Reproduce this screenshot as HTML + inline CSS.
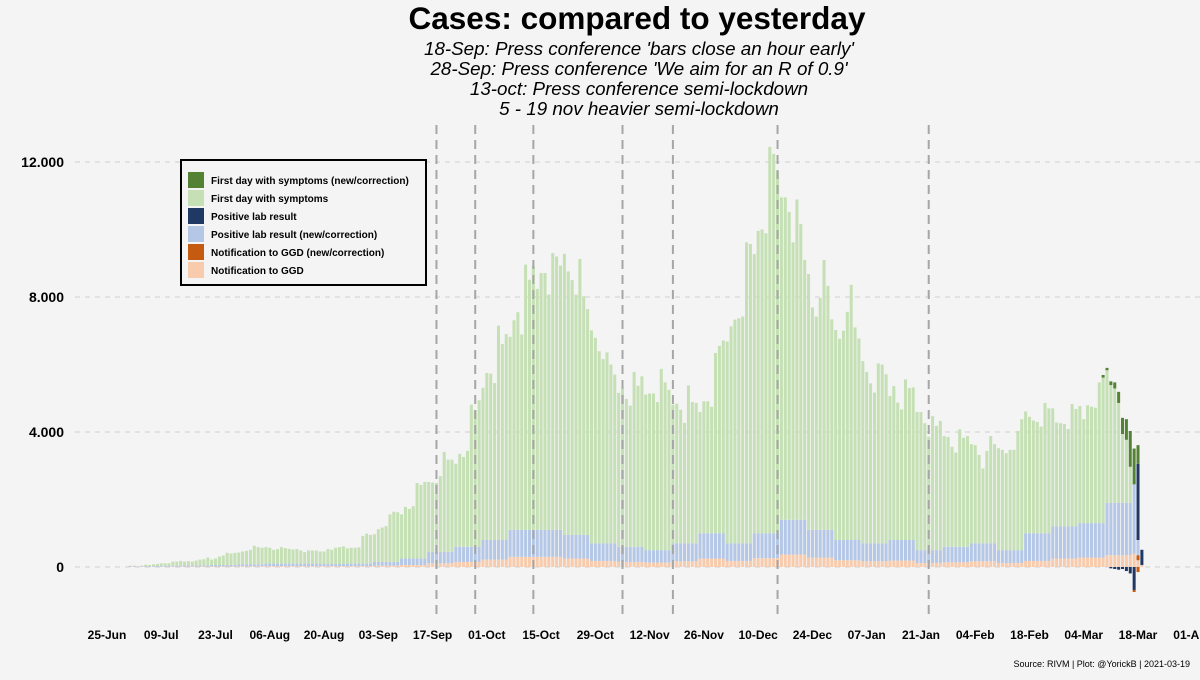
<!DOCTYPE html>
<html><head><meta charset="utf-8"><style>
html,body{margin:0;padding:0;background:#f4f4f4;}
body{width:1200px;height:675px;overflow:hidden;font-family:"Liberation Sans",Arial,sans-serif;}
</style></head><body>
<svg id="chart" width="1200" height="675" xmlns="http://www.w3.org/2000/svg" style="font-family:'Liberation Sans',Arial,sans-serif">
<rect width="1200" height="675" fill="#f4f4f4"/>
<text x="637" y="29" text-anchor="middle" font-size="31.5" font-weight="bold" fill="#000">Cases: compared to yesterday</text>
<g font-size="18.8" font-style="italic" text-anchor="middle" fill="#000">
<text x="639" y="55">18-Sep: Press conference 'bars close an hour early'</text>
<text x="639" y="75">28-Sep: Press conference 'We aim for an R of 0.9'</text>
<text x="639" y="95">13-oct: Press conference semi-lockdown</text>
<text x="639" y="115">5 - 19 nov heavier semi-lockdown</text>
</g>
<g id="grid"></g><g id="bars"></g><g id="vlines"></g><g id="axes"></g>
<g>
<rect x="181" y="160" width="245" height="125" fill="#f4f4f4" stroke="#000" stroke-width="2"/>
<g id="legend-items" font-size="10" font-weight="bold"></g>
</g>
<text x="1190" y="667" text-anchor="end" font-size="9" fill="#000">Source: RIVM | Plot: @YorickB |  2021-03-19</text>
</svg>
<script>
// daily totals (cases by first day of symptoms stack top), from 1-Jul-2020
const totals = [40,40,20,40,70,60,80,90,110,110,110,160,160,180,160,170,160,190,220,230,280,220,250,310,340,420,400,420,430,460,480,510,630,590,570,590,570,510,530,590,560,540,520,530,490,440,490,490,490,460,460,530,510,570,590,610,550,570,570,580,920,990,950,970,1120,1170,1210,1560,1640,1620,1560,1780,1720,1800,
2490,2430,2520,2520,2500,2490,2690,3410,3180,3180,3060,3350,3260,3440,4810,4640,4940,5310,5750,5730,5450,7150,6610,6900,6820,7310,7550,6890,8960,8510,8930,8240,8710,8710,8070,9300,9200,8930,9280,8760,8500,8070,9130,8020,7640,7010,6790,6390,6160,6360,6000,5700,5160,5270,4980,4780,5780,5370,5650,5110,5140,5140,4890,5870,5470,5250,4810,4840,4660,4270,5380,4890,4860,4590,4910,4910,4750,6340,6550,6710,6680,7130,7330,
7370,7420,9620,9570,9270,9960,10000,9890,12450,12240,11730,10950,10950,10520,9620,10890,10160,9100,8680,7690,7420,7970,9100,8330,7340,7020,6760,7000,7560,8360,7100,6770,6100,5780,5440,5170,6030,6000,5710,5070,5360,4870,4670,5560,5300,5320,4590,4590,4260,3860,4470,4180,4330,3880,3850,3560,3390,4080,3830,3880,3640,3610,3320,2920,3440,3880,3640,3520,3470,3370,3470,3470,4030,
4380,4610,4450,4340,4300,4160,4860,4700,4700,4280,4260,4240,4090,4830,4680,4770,4380,4790,4750,4720,5470,5690,5900,5500,5470,5190,4420,4380,4030,3510,3610,510];
// weekly lab-result band tops (incl. GGD), weeks starting 1-Jul
const labWeekly = [30,40,50,60,80,100,100,90,100,150,250,450,600,800,1100,1100,950,700,600,500,700,1000,700,1000,1400,1100,800,700,800,500,600,700,500,1000,1200,1300,1900,2600];
// weekly GGD notification band tops
const ggdWeekly = [10,10,15,15,20,25,25,25,25,40,60,110,150,220,300,300,250,180,150,130,170,250,180,260,370,280,200,170,190,120,140,170,120,180,250,280,350,400];
// last 12 days: corrections
const symNew = [0,80,70,110,180,330,480,610,1060,1060,550,200];
const labNewPos = [0,0,0,0,0,0,0,0,0,0,2850,500];
const labNewNeg = [0,0,0,40,60,80,60,120,190,680,0,40];
const ggdNewNeg = [0,0,0,0,0,0,0,0,0,60,150,0];
const ggdNewPos = [0,0,0,0,0,0,0,0,0,0,200,60];
const yTicks = [0,4000,8000,12000];
const yTickLabels = ["0","4.000","8.000","12.000"];
const xTickLabels = ["25-Jun","09-Jul","23-Jul","06-Aug","20-Aug","03-Sep","17-Sep","01-Oct","15-Oct","29-Oct","12-Nov","26-Nov","10-Dec","24-Dec","07-Jan","21-Jan","04-Feb","18-Feb","04-Mar","18-Mar","01-Apr"];
const eventDays = [85,95,110,133,146,173,212]; // days since 25-Jun
const startDay = 6;

const NS="http://www.w3.org/2000/svg";
const x = d => 107 + d*3.876;
const y = v => 567 - v*0.03375;
function mk(tag, attrs, parent){const e=document.createElementNS(NS,tag);for(const k in attrs)e.setAttribute(k,attrs[k]);parent.appendChild(e);return e;}
const grid=document.getElementById('grid'), bars=document.getElementById('bars'), vl=document.getElementById('vlines'), axes=document.getElementById('axes');
yTicks.forEach((t,i)=>{
  const l=mk('line',{x1:75,x2:1200,y1:y(t),y2:y(t),stroke:'#cfcfcf','stroke-width':1,'stroke-dasharray':'5 5'},grid);
  
  
  const tx=mk('text',{x:64,y:y(t)+5,'text-anchor':'end','font-size':14,'font-weight':'bold'},axes);
  tx.textContent=yTickLabels[i];
  
  
});
xTickLabels.forEach((s,i)=>{
  const tx=mk('text',{x:x(i*14),y:639,'text-anchor':'middle','font-size':12,'font-weight':'bold'},axes);
  tx.textContent=s;
  
  
});
const n=totals.length;
function seg(xx,v0,v1,col){ if(v1===v0)return; const a=Math.min(y(v0),y(v1)),b=Math.max(y(v0),y(v1));
  const r=mk('rect',{x:xx-1.5,y:a,width:3,height:b-a,fill:col},bars);
  
  }
for(let i=0;i<n;i++){
  const d=startDay+i, xx=x(d), w=Math.floor(i/7);
  const tail=i-(n-12);
  const sn = tail>=0?symNew[tail]:0;
  const lp = tail>=0?labNewPos[tail]:0;
  const ln = tail>=0?labNewNeg[tail]:0;
  const gn = tail>=0?ggdNewNeg[tail]:0;
  const gp = tail>=0?ggdNewPos[tail]:0;
  const tot=totals[i];
  let labTop=Math.min(labWeekly[Math.min(w,labWeekly.length-1)],tot);
  let ggdTop=Math.min(ggdWeekly[Math.min(w,ggdWeekly.length-1)],labTop);
  if(i===n-1){
    seg(xx,0,gp,'#f8cbad');seg(xx,gp,tot,'#203864');continue;}
  if(i===n-2){
    seg(xx,0,gp,'#f8cbad');seg(xx,gp,gp+150,'#c55a11');seg(xx,gp+150,gp+600,'#b4c7e7');seg(xx,gp+600,tot-sn,'#203864');seg(xx,tot-sn,tot,'#548235');seg(xx,0,-gn,'#c55a11');continue;}
  seg(xx,0,ggdTop,'#f8cbad');
  seg(xx,ggdTop,labTop,'#b4c7e7');
  seg(xx,labTop,tot-sn,'#c5e0b4');
  seg(xx,tot-sn,tot,'#548235');
  if(ln>0)seg(xx,0,-ln,'#203864');
  if(gn>0)seg(xx,-ln,-ln-gn,'#c55a11');
  if(lp>0)seg(xx,labTop,labTop+lp,'#203864');
}
eventDays.forEach(d=>{
  const l=mk('line',{x1:x(d),x2:x(d),y1:125,y2:616,stroke:'#a6a6a6','stroke-width':2,'stroke-dasharray':'9 6'},vl);
  
  
});
const legendLabels=["First day with symptoms (new/correction)","First day with symptoms","Positive lab result","Positive lab result (new/correction)","Notification to GGD (new/correction)","Notification to GGD"];
const legendColors=["#548235","#c5e0b4","#203864","#b4c7e7","#c55a11","#f8cbad"];
const lg=document.getElementById('legend-items');
legendLabels.forEach((s,i)=>{
  const yy=172+i*18;
  const r=mk('rect',{x:188,y:yy,width:16,height:16,fill:legendColors[i]},lg);
  
  
  const t=mk('text',{x:211,y:yy+12},lg);
  t.textContent=s;
  
  
});
</script>
</body></html>
